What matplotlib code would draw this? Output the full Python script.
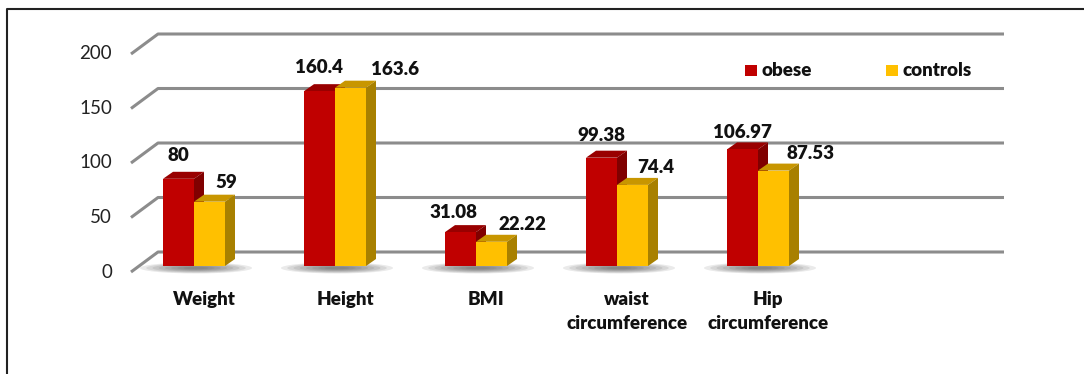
import matplotlib
matplotlib.use("Agg")
import matplotlib.pyplot as plt
from matplotlib.patches import Polygon, Rectangle, Ellipse
import numpy as np

categories = ["Weight", "Height", "BMI", "waist\ncircumference", "Hip\ncircumference"]
series = ["obese", "controls"]
obese = [80, 160.4, 31.08, 99.38, 106.97]
controls = [59, 163.6, 22.22, 74.4, 87.53]
y_ticks = [0, 50, 100, 150, 200]

# label nudges in pixels (x shift, gap above bar top)
obese_lab_dx = [0, 0, -7, 0, 0]
obese_lab_gap = [18, 18, 14, 17, 11]
ctrl_lab_dx = [17, 45, 31, 23, 37]
ctrl_lab_gap = [14, 13, 12, 12, 12]

front_cols = {"obese": "#C00000", "controls": "#FFC000"}
top_cols = {"obese": "#990000", "controls": "#C89600"}
side_cols = {"obese": "#800000", "controls": "#A88000"}

plt.rcParams['font.family'] = ['Lato', 'DejaVu Sans']
BOLD = "heavy"

W, H = 1084, 374
fig = plt.figure(figsize=(W / 100, H / 100), dpi=100)
ax = fig.add_axes([0, 0, 1, 1])
ax.axis("off")

# pixel scale: category step 141 px, 1 unit = 1.09 px, zero of bars at y=266 px
SX = 1 / 141.0
SY = 1 / 1.09
x0_px, y0_px = 194, 266
ax.set_xlim(-x0_px * SX, (W - x0_px) * SX)
ax.set_ylim(-(H - y0_px) * SY, y0_px * SY)

n_slots = 6
back_dy = 14 * SY      # back wall offset from bar floor
front_dy = -6 * SY     # front edge offset
back_l = (158 - x0_px) * SX
back_r = back_l + n_slots * 141 * SX
front_l = (131 - x0_px) * SX

grid_c = "#8c8c8c"
for v in y_ticks:
    ax.plot([front_l, back_l, back_r], [v + front_dy, v + back_dy, v + back_dy],
            color=grid_c, lw=2.2, solid_capstyle="butt", zorder=1)
    ax.text((112 - x0_px) * SX, v + front_dy, str(v), ha="right", va="center",
            fontsize=13.5, color="#222222")

bw = 31 * SX
ddx, ddy = 10 * SX, 7 * SY
xs = np.arange(len(categories))

# floor shadows
for i in xs:
    for k in range(8):
        f = 1 - k / 9
        ax.add_patch(Ellipse((i + 2 * SX, -2 * SY), 112 * SX * f, 11 * SY * f,
                             color="#333333", alpha=0.1, lw=0, zorder=2))

def draw_bar(xl, v, name, z):
    xr = xl + bw
    ax.bar(xl, v, width=bw, align="edge", color=front_cols[name], zorder=z + 0.2)
    ax.add_patch(Polygon([(xl, v), (xl + ddx, v + ddy), (xr + ddx, v + ddy), (xr, v)],
                         closed=True, color=top_cols[name], lw=0, zorder=z))
    ax.add_patch(Polygon([(xr, 0), (xr, v), (xr + ddx, v + ddy), (xr + ddx, ddy)],
                         closed=True, color=side_cols[name], lw=0, zorder=z))

for i in xs:
    draw_bar(i - bw, obese[i], "obese", 3)
    draw_bar(i, controls[i], "controls", 4)
    ax.text(i - bw / 2 + obese_lab_dx[i] * SX, obese[i] + obese_lab_gap[i] * SY,
            f"{obese[i]:g}", ha="center", va="baseline", fontsize=13.5,
            fontweight=BOLD, color="#111111", zorder=6)
    ax.text(i + bw / 2 + ctrl_lab_dx[i] * SX, controls[i] + ctrl_lab_gap[i] * SY,
            f"{controls[i]:g}", ha="center", va="baseline", fontsize=13.5,
            fontweight=BOLD, color="#111111", zorder=6)
    ax.text(i + 10 * SX, -25 * SY, categories[i], ha="center", va="top",
            fontsize=13.5, fontweight=BOLD, color="#111111", linespacing=1.5,
            multialignment="center")

# legend
leg_x = [745, 886]
for name, lx in zip(series, leg_x):
    ax.add_patch(Rectangle(((lx - x0_px) * SX, (y0_px - 76) * SY), 12 * SX, 11 * SY,
                           color=front_cols[name], lw=0, zorder=6))
    ax.text((lx + 17 - x0_px) * SX, (y0_px - 71) * SY, name, ha="left", va="center",
            fontsize=13.5, fontweight=BOLD, color="#111111")

# outer frame (left and top edges)
fig.add_artist(plt.Line2D([7 / W, 7 / W, 1], [0, 1 - 9 / H, 1 - 9 / H],
                          transform=fig.transFigure, color="#222222", lw=1.5))

fig.savefig("out.png", dpi=100)
